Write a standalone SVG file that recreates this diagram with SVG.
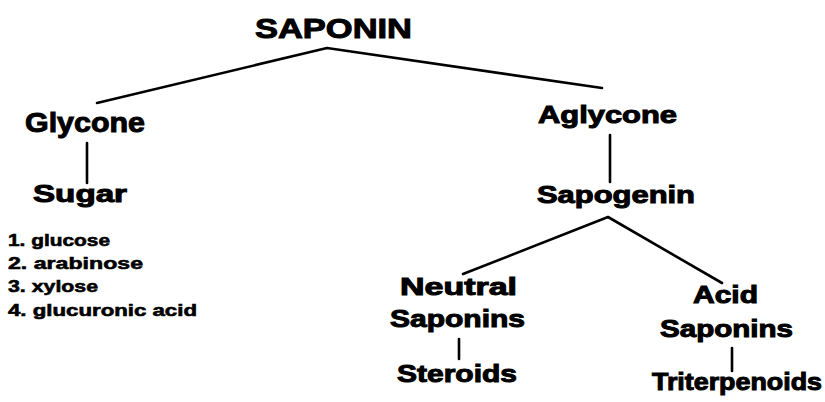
<svg xmlns="http://www.w3.org/2000/svg" width="825" height="402" viewBox="0 0 825 402">
<style>
.t{font-family:"Liberation Sans","DejaVu Sans",sans-serif;font-weight:bold;fill:#000;stroke:#000;stroke-width:1;text-anchor:middle;font-size:24px;}
.big{font-size:28px;}
.li{font-family:"Liberation Sans","DejaVu Sans",sans-serif;font-weight:bold;fill:#000;stroke:#000;stroke-width:0.6;font-size:17px;}
.c{stroke:#000;stroke-width:2.6;fill:none;stroke-linejoin:round;stroke-linecap:round;}
</style>
<rect width="825" height="402" fill="#fff"/>
<g id="connectors">
<polyline class="c" points="97,103 327,48 602,88"/>
<polyline class="c" points="463,274 608,217 722,283"/>
<line class="c" x1="87" y1="143" x2="87" y2="183"/>
<line class="c" x1="610" y1="135" x2="610" y2="182"/>
<line class="c" x1="459" y1="339" x2="459" y2="359"/>
<line class="c" x1="732" y1="348" x2="732" y2="371"/>
</g>
<g id="saponin"><text class="t big" x="333.5" y="38" textLength="157" lengthAdjust="spacingAndGlyphs">SAPONIN</text></g>
<g id="glycone"><text class="t big" x="85" y="132" textLength="120" lengthAdjust="spacingAndGlyphs">Glycone</text></g>
<g id="sugar"><text class="t" x="80" y="202" textLength="94" lengthAdjust="spacingAndGlyphs">Sugar</text></g>
<g id="sugar-list">
<text class="li" x="8" y="246" textLength="102" lengthAdjust="spacingAndGlyphs">1. glucose</text>
<text class="li" x="8" y="269" textLength="135" lengthAdjust="spacingAndGlyphs">2. arabinose</text>
<text class="li" x="8" y="292" textLength="90" lengthAdjust="spacingAndGlyphs">3. xylose</text>
<text class="li" x="8" y="316" textLength="189" lengthAdjust="spacingAndGlyphs">4. glucuronic acid</text>
</g>
<g id="aglycone"><text class="t" x="607.5" y="123" textLength="139" lengthAdjust="spacingAndGlyphs">Aglycone</text></g>
<g id="sapogenin"><text class="t" x="616" y="203" textLength="158" lengthAdjust="spacingAndGlyphs">Sapogenin</text></g>
<g id="neutral-saponins">
<text class="t" x="458.5" y="295" textLength="117" lengthAdjust="spacingAndGlyphs">Neutral</text>
<text class="t" x="457.5" y="327" textLength="135" lengthAdjust="spacingAndGlyphs">Saponins</text>
</g>
<g id="steroids"><text class="t" x="457" y="382" textLength="120" lengthAdjust="spacingAndGlyphs">Steroids</text></g>
<g id="acid-saponins">
<text class="t" x="725.5" y="303" textLength="65" lengthAdjust="spacingAndGlyphs">Acid</text>
<text class="t" x="726.5" y="337" textLength="133" lengthAdjust="spacingAndGlyphs">Saponins</text>
</g>
<g id="triterpenoids"><text class="t" x="737" y="390" textLength="170" lengthAdjust="spacingAndGlyphs">Triterpenoids</text></g>
</svg>
